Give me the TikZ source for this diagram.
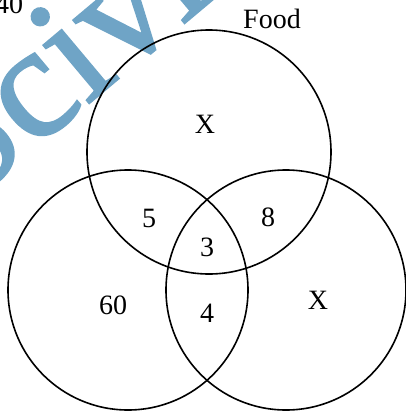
\documentclass[tikz,border=0pt]{standalone}
\usepackage{fontspec}
\setmainfont{Liberation Serif}
\newfontfamily\markfont[FakeBold=1.5]{Liberation Serif}
\definecolor{markblue}{RGB}{111,164,198}
\tikzset{
  set/.style={line width=1.6pt},
  count/.style={font=\fontsize{28}{32}\selectfont},
}
\begin{document}
\begin{tikzpicture}[x=1pt,y=-1pt]
\useasboundingbox (0,0) rectangle (406,413);
\clip (0,0) rectangle (406,413);
% watermark
\node[markblue, font=\markfont\fontsize{160}{160}\selectfont, rotate=40,
  anchor=base west, inner sep=0pt] (mark) at (-36,208) {Scivi};
% the three sets
\draw[set] (209,152) circle[radius=122pt];
\draw[set] (128,290) circle[radius=120pt];
\draw[set] (286,290) circle[radius=120pt];
% counts
\node[count] (forty) at (9,4) {40};
\node[count] (food) at (272,19) {Food};
\node[count] (xtop) at (205,124) {X};
\node[count] (five) at (149,218) {5};
\node[count] (eight) at (268,217) {8};
\node[count] (three) at (207,247) {3};
\node[count] (sixty) at (113,305) {60};
\node[count] (four) at (207,313) {4};
\node[count] (xright) at (318,300) {X};
\end{tikzpicture}
\end{document}
